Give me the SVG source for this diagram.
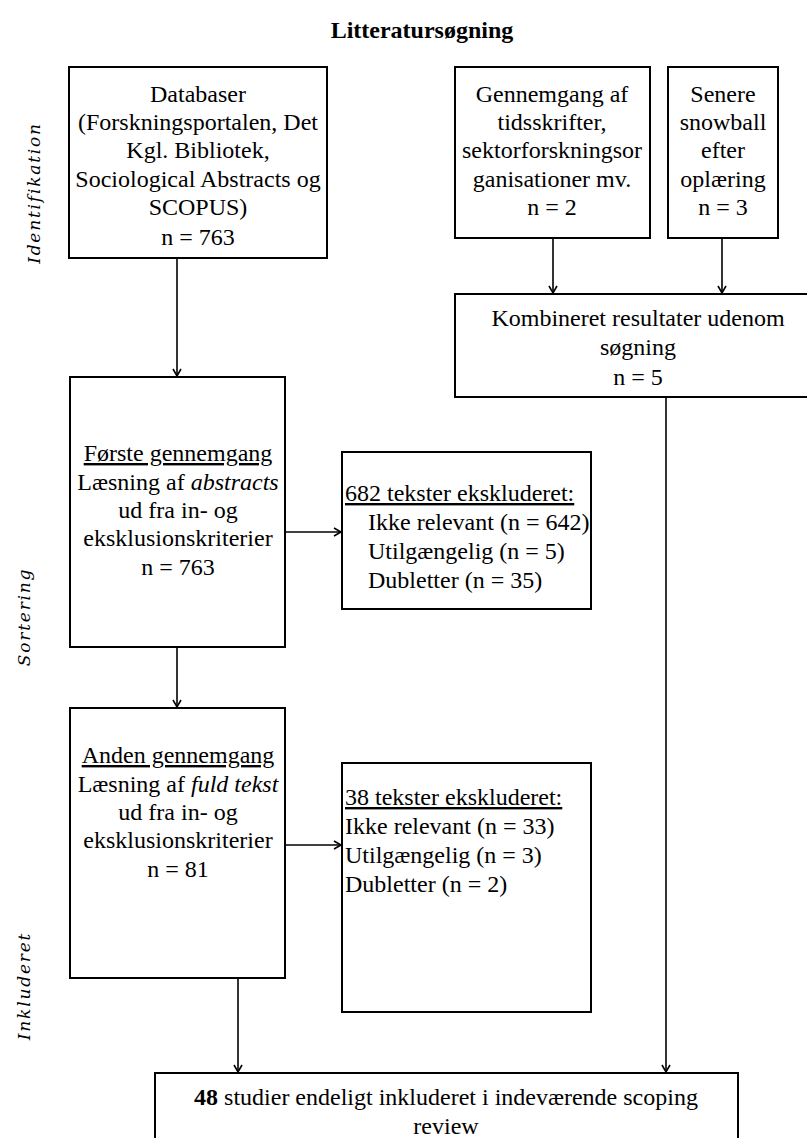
<svg xmlns="http://www.w3.org/2000/svg" width="807" height="1138" viewBox="0 0 807 1138">
<style>
.box{fill:#fff;stroke:#000;stroke-width:2}
.t{font-family:"Liberation Serif","DejaVu Serif",serif;font-size:24px;fill:#000}
.c{text-anchor:middle}
.u{text-decoration:underline}
.side{font-family:"DejaVu Serif","Liberation Serif",serif;font-style:italic;font-size:17px;letter-spacing:1.8px;fill:#000;text-anchor:middle}
.ln{stroke:#000;stroke-width:1.6;fill:none}
</style>
<defs>
<marker id="ah" markerWidth="10" markerHeight="10" refX="8" refY="5" orient="auto" markerUnits="userSpaceOnUse">
<path d="M1,1 L8,5 L1,9" fill="none" stroke="#000" stroke-width="1.6"/>
</marker>
</defs>
<rect width="807" height="1138" fill="#fff"/>
<text class="t c" x="422" y="38" font-weight="bold" font-size="25">Litteratursøgning</text>
<g id="labels">
<text class="side" transform="translate(40,193) rotate(-90)">Identifikation</text>
<text class="side" transform="translate(30,617) rotate(-90)">Sortering</text>
<text class="side" transform="translate(30,986) rotate(-90)">Inkluderet</text>
</g>
<g id="connectors">
<line class="ln" x1="177" y1="245" x2="177" y2="376" marker-end="url(#ah)"/>
<line class="ln" x1="553" y1="239" x2="553" y2="293" marker-end="url(#ah)"/>
<line class="ln" x1="722" y1="239" x2="722" y2="293" marker-end="url(#ah)"/>
<line class="ln" x1="286" y1="532" x2="341" y2="532" marker-end="url(#ah)"/>
<line class="ln" x1="177" y1="648" x2="177" y2="707" marker-end="url(#ah)"/>
<line class="ln" x1="286" y1="845" x2="341" y2="845" marker-end="url(#ah)"/>
<line class="ln" x1="238" y1="979" x2="238" y2="1072" marker-end="url(#ah)"/>
<line class="ln" x1="666" y1="398" x2="666" y2="1072" marker-end="url(#ah)"/>
</g>
<g id="databaser">
<rect class="box" x="69" y="67" width="258" height="191"/>
<text class="t c" x="198" y="102">Databaser</text>
<text class="t c" x="198" y="130">(Forskningsportalen, Det</text>
<text class="t c" x="198" y="158">Kgl. Bibliotek,</text>
<text class="t c" x="198" y="187">Sociological Abstracts og</text>
<text class="t c" x="198" y="215">SCOPUS)</text>
<text class="t c" x="198" y="245">n = 763</text>
</g>
<g id="gennemgang">
<rect class="box" x="455" y="67" width="195" height="171"/>
<text class="t c" x="552" y="102">Gennemgang af</text>
<text class="t c" x="552" y="130">tidsskrifter,</text>
<text class="t c" x="552" y="158">sektorforskningsor</text>
<text class="t c" x="552" y="187">ganisationer mv.</text>
<text class="t c" x="552" y="215">n = 2</text>
</g>
<g id="senere">
<rect class="box" x="668" y="67" width="110" height="171"/>
<text class="t c" x="723" y="102">Senere</text>
<text class="t c" x="723" y="130">snowball</text>
<text class="t c" x="723" y="158">efter</text>
<text class="t c" x="723" y="187">oplæring</text>
<text class="t c" x="723" y="215">n = 3</text>
</g>
<g id="kombineret">
<rect class="box" x="455" y="294" width="360" height="103"/>
<text class="t c" x="638" y="326">Kombineret resultater udenom</text>
<text class="t c" x="638" y="355">søgning</text>
<text class="t c" x="638" y="385">n = 5</text>
</g>
<g id="forste">
<rect class="box" x="70" y="377" width="215" height="270"/>
<text class="t c u" x="178" y="461">Første gennemgang</text>
<text class="t c" x="178" y="490">Læsning af <tspan font-style="italic">abstracts</tspan></text>
<text class="t c" x="178" y="518">ud fra in- og</text>
<text class="t c" x="178" y="546">eksklusionskriterier</text>
<text class="t c" x="178" y="575">n = 763</text>
</g>
<g id="ekskl682">
<rect class="box" x="342" y="452" width="249" height="157"/>
<text class="t u" x="345" y="501">682 tekster ekskluderet:</text>
<text class="t" x="368" y="530">Ikke relevant (n = 642)</text>
<text class="t" x="368" y="559">Utilgængelig (n = 5)</text>
<text class="t" x="368" y="588">Dubletter (n = 35)</text>
</g>
<g id="anden">
<rect class="box" x="70" y="708" width="215" height="270"/>
<text class="t c u" x="178" y="763">Anden gennemgang</text>
<text class="t c" x="178" y="792">Læsning af <tspan font-style="italic">fuld tekst</tspan></text>
<text class="t c" x="178" y="820">ud fra in- og</text>
<text class="t c" x="178" y="848">eksklusionskriterier</text>
<text class="t c" x="178" y="877">n = 81</text>
</g>
<g id="ekskl38">
<rect class="box" x="342" y="763" width="249" height="249"/>
<text class="t u" x="345" y="805">38 tekster ekskluderet:</text>
<text class="t" x="345" y="834">Ikke relevant (n = 33)</text>
<text class="t" x="345" y="863">Utilgængelig (n = 3)</text>
<text class="t" x="345" y="892">Dubletter (n = 2)</text>
</g>
<g id="final">
<rect class="box" x="155" y="1073" width="583" height="80"/>
<text class="t c" x="446" y="1105"><tspan font-weight="bold">48</tspan> studier endeligt inkluderet i indeværende scoping</text>
<text class="t c" x="446" y="1134">review</text>
</g>
</svg>
